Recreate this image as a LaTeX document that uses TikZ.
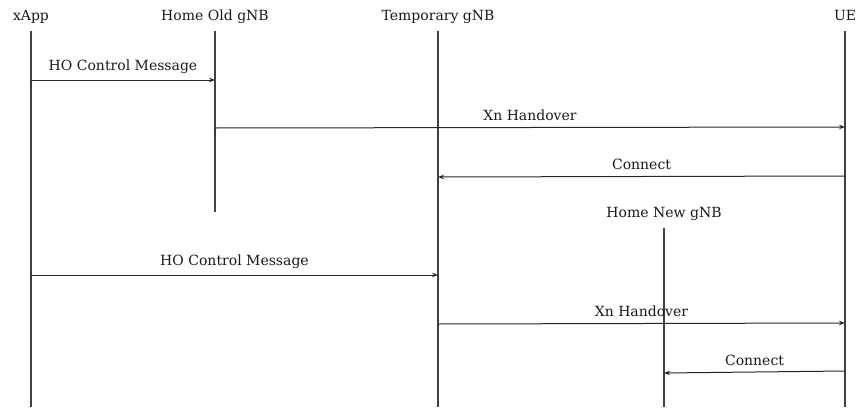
\documentclass[tikz,border=0pt]{standalone}
\usepackage{fontspec}
\setmainfont{DejaVu Serif}
\usetikzlibrary{arrows.meta}
\begin{document}
\begin{tikzpicture}[x=1pt,y=-1pt,
  head/.style={font=\fontsize{14}{17}\selectfont, inner sep=0pt, anchor=base, text=black!90},
  life/.style={line width=1.1pt, draw=black!75},
  msg/.style={line width=1pt, draw=black!85, -{Stealth[length=6pt,width=4.5pt]}},
  mlbl/.style={font=\fontsize{14}{17}\selectfont, inner sep=0pt, anchor=base, yshift=7pt, text=black!90},
  hilbl/.style={mlbl, yshift=3pt}]
\useasboundingbox (0,0) rectangle (862,407);
% heads
\node[head] (hx) at (31,20) {xApp};
\node[head] (ho) at (215,20) {Home Old gNB};
\node[head] (ht) at (438,20) {Temporary gNB};
\node[head] (hu) at (845,20) {UE};
\node[head] (hn) at (664,217) {Home New gNB};
% lifeline ends
\coordinate (xT) at (31,31);   \coordinate (xB) at (31,407);
\coordinate (oT) at (215,31);  \coordinate (oB) at (215,212);
\coordinate (tT) at (438,31);  \coordinate (tB) at (438,407);
\coordinate (uT) at (845,31);  \coordinate (uB) at (845,407);
\coordinate (nT) at (664,228); \coordinate (nB) at (664,407);
\draw[life] (xT) -- (xB);
\draw[life] (oT) -- (oB);
\draw[life] (tT) -- (tB);
\draw[life] (uT) -- (uB);
\draw[life] (nT) -- (nB);
% message points
\coordinate (x1) at (31,80);   \coordinate (o1) at (215,80);
\coordinate (o2) at (215,128); \coordinate (u2) at (845,127);
\coordinate (u3) at (845,176); \coordinate (t3) at (438,177);
\coordinate (x4) at (31,275);  \coordinate (t4) at (438,275);
\coordinate (t5) at (438,324); \coordinate (u5) at (845,323);
\coordinate (u6) at (845,371); \coordinate (n6) at (664,373);
% messages
\draw[msg] (x1) -- node[hilbl] {HO Control Message} (o1);
\draw[msg] (o2) -- node[mlbl] {Xn Handover} (u2);
\draw[msg] (u3) -- node[mlbl] {Connect} (t3);
\draw[msg] (x4) -- node[hilbl] {HO Control Message} (t4);
\draw[msg] (t5) -- node[mlbl] {Xn Handover} (u5);
\draw[msg] (u6) -- node[mlbl] {Connect} (n6);
\end{tikzpicture}
\end{document}
